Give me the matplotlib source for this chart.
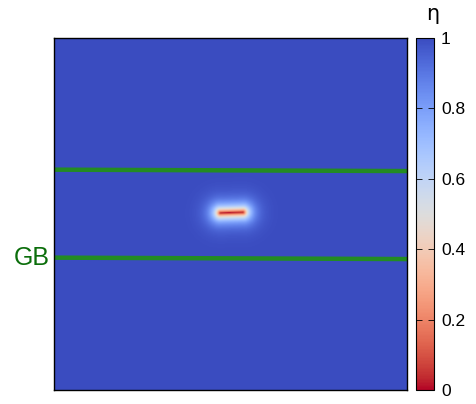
import numpy as np
import matplotlib.pyplot as plt

# domain (arbitrary units) and crack / grain boundary geometry
L = 100.0
n_grid = 400
crack_x = [47.0, 53.4]
crack_y = [50.3, 50.5]
ell = 1.8  # phase-field length scale
gb_x = [0.0, 100.0]
gb_upper_y = [62.6, 62.2]
gb_lower_y = [37.6, 37.2]
cb_ticks = [0, 0.2, 0.4, 0.6, 0.8, 1]

# order parameter field: 1 in bulk, 0 on the crack
x = np.linspace(0, L, n_grid)
X, Y = np.meshgrid(x, x)
p0 = np.array([crack_x[0], crack_y[0]])
p1 = np.array([crack_x[1], crack_y[1]])
seg = p1 - p0
t = ((X - p0[0]) * seg[0] + (Y - p0[1]) * seg[1]) / (seg @ seg)
t = np.clip(t, 0, 1)
dx = X - (p0[0] + t * seg[0])
dy = Y - (p0[1] + t * seg[1])
d = np.sqrt(dx**2 + dy**2)
eta = 1 - np.exp(-d / ell)

fig = plt.figure(figsize=(4.76, 4.04), dpi=100)
ax = fig.add_axes([54/476, 14/404, 353/476, 352/404])
im = ax.imshow(eta, origin="lower", extent=[0, L, 0, L], cmap="coolwarm_r",
               vmin=0, vmax=1, interpolation="bilinear", aspect="auto")
ax.plot(gb_x, gb_upper_y, color="#238b23", lw=3.2)
ax.plot(gb_x, gb_lower_y, color="#238b23", lw=3.2)
ax.set_xlim(0, L)
ax.set_ylim(0, L)
ax.set_xticks([])
ax.set_yticks([])
for s in ax.spines.values():
    s.set_linewidth(1.0)
ax.text(-0.012, gb_lower_y[0] / L, "GB", transform=ax.transAxes,
        ha="right", va="center", fontsize=18, color="#0b6e0b",
        family="Liberation Sans")

cax = fig.add_axes([416/476, 14/404, 18/476, 352/404])
cb = fig.colorbar(im, cax=cax, ticks=cb_ticks)
cb.ax.set_yticklabels([f"{v:g}" for v in cb_ticks], family="Liberation Sans")
cb.ax.tick_params(direction="in", left=True, right=True, length=4,
                  width=0.6, labelsize=12.5, pad=5)
cb.outline.set_linewidth(0.8)
fig.text(433/476, 1 - 14/404, "η", ha="center", va="center", fontsize=15)

plt.savefig("out.png", dpi=100)
